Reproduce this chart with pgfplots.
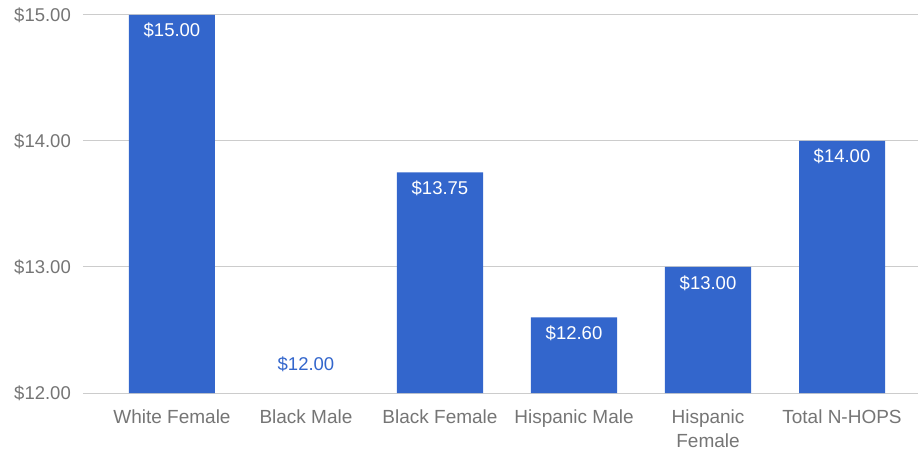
\documentclass[border=0pt]{standalone}
\usepackage{pgfplots}
\pgfplotsset{compat=1.18}
\usepackage{fontspec}
\setmainfont{Liberation Sans}
\definecolor{barblue}{HTML}{3366CC}
\definecolor{tickgray}{HTML}{757575}
\definecolor{gridgray}{HTML}{CCCCCC}
\begin{document}
\begin{tikzpicture}
\begin{axis}[
  scale only axis, width=835bp, height=378bp,
  xmin=-0.664, xmax=5.567, ymin=12, ymax=15,
  axis line style={draw=none},
  tick style={draw=none},
  ymajorgrids, grid style={gridgray, line width=1bp},
  ytick={12,13,14,15},
  yticklabels={\$12.00,\$13.00,\$14.00,\$15.00},
  yticklabel style={font=\fontsize{18.5bp}{22bp}\selectfont, text=tickgray, inner sep=0pt, anchor=east, xshift=-12bp},
  xtick={0,1,2,3,4,5},
  xticklabels={White Female, Black Male, Black Female, Hispanic Male, {Hispanic\\Female}, Total N-HOPS},
  xticklabel style={font=\fontsize{19bp}{24bp}\selectfont, text=tickgray, align=center, inner sep=0pt, anchor=north, yshift=-17bp},
  clip=false,
]
\addplot[ybar, bar width=0.642, fill=barblue, draw=none,
  point meta=explicit symbolic, nodes near coords,
  every node near coord/.append style={font=\fontsize{18.5bp}{22bp}\selectfont, text=white, anchor=base, yshift=-22bp}]
  coordinates {(0,15) [\$15.00] (2,13.75) [\$13.75] (3,12.6) [\$12.60] (4,13) [\$13.00] (5,14) [\$14.00]};
\addplot[draw=none, mark=none,
  point meta=explicit symbolic, nodes near coords,
  every node near coord/.append style={font=\fontsize{18.5bp}{22bp}\selectfont, text=barblue, anchor=base, yshift=23bp}]
  coordinates {(1,12) [\$12.00]};
\end{axis}
\pgfresetboundingbox
\path[use as bounding box] ([xshift=-83bp,yshift=-61bp]current axis.south west) rectangle ([yshift=15bp]current axis.north east);
\end{tikzpicture}
\end{document}
